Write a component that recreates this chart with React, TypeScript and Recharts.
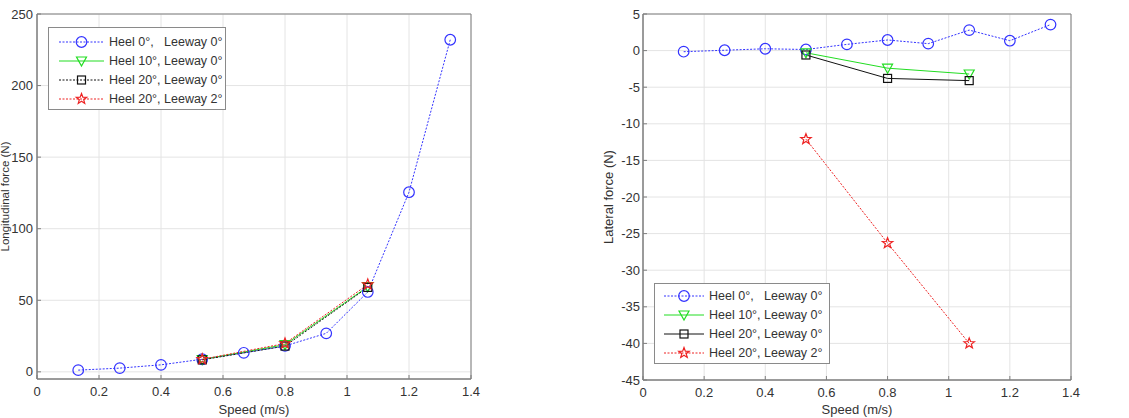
import React from 'react';
import { LineChart, Line, XAxis, YAxis, CartesianGrid, ReferenceArea, Legend } from 'recharts';

// speeds (m/s)
const speedAll = [0.133, 0.267, 0.4, 0.533, 0.667, 0.8, 0.933, 1.067, 1.2, 1.333];
const speedHeeled = [0.533, 0.8, 1.067];
const speedTicks = [0, 0.2, 0.4, 0.6, 0.8, 1, 1.2, 1.4];

const seriesNames = [
  'Heel 0°,   Leeway 0°',
  'Heel 10°, Leeway 0°',
  'Heel 20°, Leeway 0°',
  'Heel 20°, Leeway 2°',
];

// longitudinal force (N)
const longHeel0 = [1.2, 2.6, 4.9, 8.8, 13.3, 18.1, 26.9, 55.8, 125.5, 232];
const longHeel10 = [8.6, 19, 59.5];
const longHeel20 = [8.4, 18, 59];
const longHeel20Lee2 = [8.8, 19.8, 61];
const longTicks = [0, 50, 100, 150, 200, 250];

// lateral force (N)
const latHeel0 = [-0.15, 0.05, 0.25, 0.15, 0.85, 1.45, 0.95, 2.8, 1.35, 3.55];
const latHeel10 = [-0.3, -2.4, -3.2];
const latHeel20 = [-0.6, -3.8, -4.1];
const latHeel20Lee2 = [-12.1, -26.3, -40];
const latTicks = [-45, -40, -35, -30, -25, -20, -15, -10, -5, 0, 5];

const SPEED_DOMAIN: [number, number] = [0, 1.4];
const LONG_DOMAIN: [number, number] = [-5, 250];
const LAT_DOMAIN: [number, number] = [-45, 5];

const FONT = '"Liberation Sans", Arial, Helvetica, sans-serif';
const TEXT = '#333';

type MarkerKind = 'circle' | 'triangle' | 'square' | 'star';

const zip = (xs: number[], ys: number[]) => xs.map((x, i) => ({ x, y: ys[i] }));

const styles = [
  { color: '#3333ff', dash: '2 1.5', marker: 'circle' as MarkerKind },
  { color: '#22dd22', dash: undefined, marker: 'triangle' as MarkerKind },
  { color: '#111111', dash: '2 1.5', marker: 'square' as MarkerKind },
  { color: '#ee2222', dash: '2 1.5', marker: 'star' as MarkerKind },
];

function starPath(cx: number, cy: number, R: number, r: number) {
  const pts: string[] = [];
  for (let i = 0; i < 10; i++) {
    const rad = i % 2 === 0 ? R : r;
    const a = -Math.PI / 2 + (i * Math.PI) / 5;
    pts.push(`${(cx + rad * Math.cos(a)).toFixed(2)},${(cy + rad * Math.sin(a)).toFixed(2)}`);
  }
  return `M${pts.join('L')}Z`;
}

function Marker({ kind, cx, cy, color }: { kind: MarkerKind; cx: number; cy: number; color: string }) {
  if (kind === 'circle') return <circle cx={cx} cy={cy} r={5.3} fill="none" stroke={color} strokeWidth={1.2} />;
  if (kind === 'triangle')
    return (
      <path
        d={`M${cx - 5},${cy - 4}L${cx + 5},${cy - 4}L${cx},${cy + 5}Z`}
        fill="none"
        stroke={color}
        strokeWidth={1.2}
      />
    );
  if (kind === 'square')
    return <rect x={cx - 4} y={cy - 4} width={8} height={8} fill="none" stroke={color} strokeWidth={1.2} />;
  return <path d={starPath(cx, cy, 5.5, 2.3)} fill="none" stroke={color} strokeWidth={1.2} />;
}

type Series = { name: string; data: { x: number; y: number }[]; color: string; dash?: string; marker: MarkerKind };

type LegendGeom = { left: number; top: number; width: number; padTop: number; padLeft: number; sample: number };

function LegendBox({ series, g }: { series: Series[]; g: LegendGeom }) {
  return (
    <div
      style={{
        width: g.width,
        boxSizing: 'border-box',
        border: '1px solid #8a8a8a',
        background: '#fff',
        paddingTop: g.padTop,
        paddingBottom: 1,
        paddingLeft: g.padLeft,
        fontFamily: FONT,
        fontSize: 12.5,
        color: TEXT,
      }}
    >
      {series.map((s) => (
        <div key={s.name} style={{ display: 'flex', alignItems: 'center', height: 19 }}>
          <svg width={g.sample} height={14}>
            <line x1={0} x2={g.sample} y1={7} y2={7} stroke={s.color} strokeWidth={1} strokeDasharray={s.dash} />
            <Marker kind={s.marker} cx={g.sample / 2} cy={7} color={s.color} />
          </svg>
          <span style={{ marginLeft: 5, whiteSpace: 'pre' }}>{s.name}</span>
        </div>
      ))}
    </div>
  );
}

type PanelProps = {
  width: number;
  marginRight: number;
  yWidth: number;
  xHeight: number;
  yDomain: [number, number];
  yTicks: number[];
  yLabel: string;
  yLabelX: number;
  yLabelSize: number;
  yTickMargin: number;
  series: Series[];
  legend: LegendGeom;
};

function Panel(p: PanelProps) {
  const height = 418;
  const plotMid = (14 + height - p.xHeight) / 2;
  const xMid = (p.yWidth + p.width - p.marginRight) / 2;
  return (
    <LineChart width={p.width} height={height} margin={{ top: 14, right: p.marginRight, bottom: 0, left: 0 }}>
      <CartesianGrid stroke="#e4e4e4" />
      <XAxis
        type="number"
        dataKey="x"
        domain={SPEED_DOMAIN}
        ticks={speedTicks}
        interval={0}
        allowDataOverflow
        height={p.xHeight}
        tickSize={-4}
        tickMargin={12}
        axisLine={{ stroke: '#7f7f7f' }}
        tickLine={{ stroke: '#7f7f7f' }}
        tick={{ fill: TEXT, fontSize: 13, fontFamily: FONT }}
      />
      <YAxis
        type="number"
        domain={p.yDomain}
        ticks={p.yTicks}
        interval={0}
        allowDataOverflow
        width={p.yWidth}
        tickSize={-4}
        tickMargin={p.yTickMargin}
        axisLine={{ stroke: '#7f7f7f' }}
        tickLine={{ stroke: '#7f7f7f' }}
        tick={{ fill: TEXT, fontSize: 13, fontFamily: FONT }}
      />
      <ReferenceArea
        x1={SPEED_DOMAIN[0]}
        x2={SPEED_DOMAIN[1]}
        y1={p.yDomain[0]}
        y2={p.yDomain[1]}
        fill="none"
        fillOpacity={0}
        stroke="#7f7f7f"
        strokeWidth={1}
      />
      {p.series.map((s) => (
        <Line
          key={s.name}
          data={s.data}
          dataKey="y"
          type="linear"
          stroke={s.color}
          strokeWidth={1}
          strokeDasharray={s.dash}
          isAnimationActive={false}
          activeDot={false}
          dot={(d: any) => (
            <Marker key={`${s.name}-${d.index}`} kind={s.marker} cx={d.cx} cy={d.cy} color={s.color} />
          )}
        />
      ))}
      <Legend
        layout="vertical"
        align="center"
        verticalAlign="middle"
        wrapperStyle={{ left: p.legend.left, top: p.legend.top, width: 'auto', height: 'auto' }}
        content={() => <LegendBox series={p.series} g={p.legend} />}
      />
      <text
        x={p.yLabelX}
        y={plotMid}
        transform={`rotate(-90 ${p.yLabelX} ${plotMid})`}
        textAnchor="middle"
        dominantBaseline="central"
        fill={TEXT}
        fontSize={p.yLabelSize}
        fontFamily={FONT}
      >
        {p.yLabel}
      </text>
      <text x={xMid} y={409} textAnchor="middle" dominantBaseline="central" fill={TEXT} fontSize={13} fontFamily={FONT}>
        Speed (m/s)
      </text>
    </LineChart>
  );
}

const longSeries: Series[] = [
  { name: seriesNames[0], data: zip(speedAll, longHeel0), ...styles[0] },
  { name: seriesNames[1], data: zip(speedHeeled, longHeel10), ...styles[1] },
  { name: seriesNames[2], data: zip(speedHeeled, longHeel20), ...styles[2] },
  { name: seriesNames[3], data: zip(speedHeeled, longHeel20Lee2), ...styles[3] },
];

const latSeries: Series[] = [
  { name: seriesNames[0], data: zip(speedAll, latHeel0), ...styles[0] },
  { name: seriesNames[1], data: zip(speedHeeled, latHeel10), ...styles[1], dash: undefined },
  { name: seriesNames[2], data: zip(speedHeeled, latHeel20), ...styles[2], dash: undefined },
  { name: seriesNames[3], data: zip(speedHeeled, latHeel20Lee2), ...styles[3] },
];

export default function App() {
  return (
    <div style={{ position: 'absolute', left: 0, top: 0, width: 1129, height: 418, background: '#fff', fontFamily: FONT }}>
      <div style={{ position: 'absolute', left: 0, top: 0 }}>
        <Panel
          width={560}
          marginRight={89}
          yWidth={37}
          xHeight={39}
          yDomain={LONG_DOMAIN}
          yTicks={longTicks}
          yLabel="Longitudinal force (N)"
          yLabelX={5}
          yLabelSize={11.5}
          yTickMargin={8}
          series={longSeries}
          legend={{ left: 48, top: 27, width: 178, padTop: 4, padLeft: 10, sample: 45 }}
        />
      </div>
      <div style={{ position: 'absolute', left: 560, top: 0 }}>
        <Panel
          width={569}
          marginRight={58}
          yWidth={83}
          xHeight={38}
          yDomain={LAT_DOMAIN}
          yTicks={latTicks}
          yLabel="Lateral force (N)"
          yLabelX={48}
          yLabelSize={13}
          yTickMargin={7}
          series={latSeries}
          legend={{ left: 94, top: 283, width: 176, padTop: 2, padLeft: 9, sample: 40 }}
        />
      </div>
    </div>
  );
}
